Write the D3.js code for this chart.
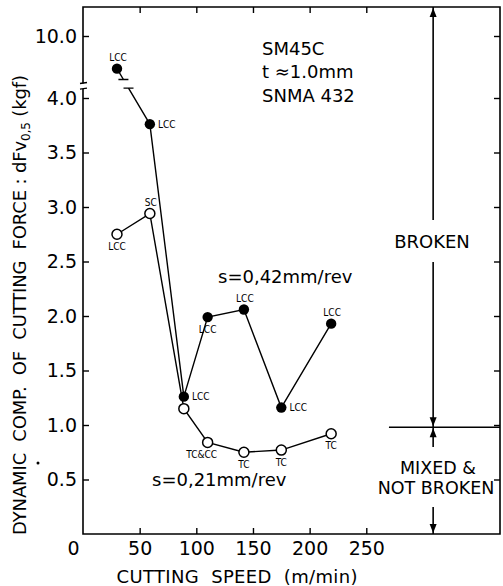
<!DOCTYPE html>
<html><head><meta charset="utf-8">
<script src="https://cdn.jsdelivr.net/npm/d3@7"></script>
<style>body{margin:0;background:#fff}svg{display:block}</style>
</head><body>
<svg id="c" width="503" height="586"></svg>
<script>
// ---- data ----
const speeds = [30, 59, 89, 110, 142, 175, 219];
const force042 = [6.6, 3.76, 1.26, 1.99, 2.06, 1.16, 1.93];
const force021 = [2.75, 2.94, 1.15, 0.84, 0.75, 0.77, 0.92];
const labels042 = ["LCC", "LCC", "LCC", "LCC", "LCC", "LCC", "LCC"];
const labels021 = ["LCC", "SC", "", "TC&CC", "TC", "TC", "TC"];
const side042 = ["above", "right", "right", "below", "above", "right", "above"];
const side021 = ["below", "above", "", "below", "below", "below", "below"];
const xTicks = [0, 50, 100, 150, 200, 250];
const yTicks = [0.5, 1.0, 1.5, 2.0, 2.5, 3.0, 3.5, 4.0, 10.0];
const boundarySpeed = 309;     // vertical region divider
const boundaryForce = 0.98;    // broken / not broken limit
const boundaryStart = 270;

// ---- layout ----
const svg = d3.select("#c");
const FONT = "'DejaVu Sans', sans-serif";
const x = d3.scaleLinear().domain([0, 368]).range([83, 500]);
const y = d3.scaleLinear().domain([0, 4.1, 5, 10]).range([534, 87.1, 84, 36]);
const yTop = 7, yBot = y(0), xLeft = x(0), xRight = x(368);

const g = svg.append("g").attr("stroke-linecap", "butt");

// frame (with axis break on left)
const yBreakUp = y(5) - 0.5, yBreakLo = y(4.1) + 2;
g.append("path").attr("fill", "none").attr("stroke", "#000").attr("stroke-width", 1.6)
  .attr("d", `M${xLeft},${yBreakUp}V${yTop}H${xRight}V${yBot}H${xLeft}V${yBreakLo}`);
g.append("path").attr("fill", "none").attr("stroke", "#000").attr("stroke-width", 1.3)
  .attr("d", `M${xLeft-3},${yBreakUp}L${xLeft+4},${yBreakUp-1}M${xLeft-3},${yBreakLo}L${xLeft+4},${yBreakLo-1}`);

// axes
const axL = d3.axisLeft(y).tickValues(yTicks).tickSizeInner(-6).tickSizeOuter(0).tickPadding(6)
  .tickFormat(d3.format(".1f"));
const gl = g.append("g").attr("transform", `translate(${xLeft},0)`).call(axL);
const axR = d3.axisRight(y).tickValues(yTicks).tickSizeInner(-6).tickSizeOuter(0).tickFormat("");
const gr = g.append("g").attr("transform", `translate(${xRight},0)`).call(axR);
const axB = d3.axisBottom(x).tickValues(xTicks).tickSizeInner(-6).tickSizeOuter(0).tickPadding(8)
  .tickFormat(d3.format("d"));
const gb = g.append("g").attr("transform", `translate(0,${yBot})`).call(axB);
const axT = d3.axisTop(x).tickValues(xTicks.filter(d => d > 0)).tickSizeInner(-6).tickSizeOuter(0).tickFormat("");
const gt = g.append("g").attr("transform", `translate(0,${yTop})`).call(axT);
[gl, gr, gb, gt].forEach(a => {
  a.select(".domain").remove();
  a.selectAll("line").attr("stroke-width", 1.4);
  a.selectAll("text").attr("font-family", FONT).attr("font-size", 19).attr("fill", "#000");
});
gb.selectAll(".tick").filter(d => d === 0).select("line").remove();
gb.selectAll(".tick").filter(d => d === 0).select("text").attr("dx", -10);

// region divider
const bx = x(boundarySpeed), by = y(boundaryForce);
const div = g.append("g").attr("stroke", "#000").attr("stroke-width", 1.6);
div.append("line").attr("x1", bx).attr("x2", bx).attr("y1", yTop).attr("y2", 220);
div.append("line").attr("x1", bx).attr("x2", bx).attr("y1", 262).attr("y2", 447);
div.append("line").attr("x1", bx).attr("x2", bx).attr("y1", 507).attr("y2", yBot);
div.append("line").attr("x1", x(boundaryStart)).attr("x2", xRight).attr("y1", by).attr("y2", by).attr("stroke-width", 1.4);
function arrow(xx, yy, dir) {
  g.append("path").attr("fill", "#000")
    .attr("d", `M${xx},${yy}L${xx-3.5},${yy-dir*9}L${xx+3.5},${yy-dir*9}Z`);
}
arrow(bx, yTop + 1, -1);
arrow(bx, by - 1, 1);
arrow(bx, by + 1, -1);
arrow(bx, yBot - 1, 1);

// series lines
const line = d3.line().x(d => x(d[0])).y(d => y(d[1]));
const pts042 = speeds.map((s, i) => [s, force042[i]]);
const pts021 = speeds.map((s, i) => [s, force021[i]]);
const lg = g.append("g").attr("fill", "none").attr("stroke", "#000").attr("stroke-width", 1.4);
lg.append("path").attr("d", line(pts042.slice(1)));
lg.append("path").attr("d", line(pts021));
{
  const p1 = [x(pts042[0][0]), y(pts042[0][1])], p2 = [x(pts042[1][0]), y(pts042[1][1])];
  const yA = yBreakUp - 4, yB = yBreakLo - 1;
  const tA = (yA - p1[1]) / (p2[1] - p1[1]), tB = (yB - p1[1]) / (p2[1] - p1[1]);
  const a = [p1[0] + tA * (p2[0] - p1[0]), yA], b = [p1[0] + tB * (p2[0] - p1[0]), yB];
  lg.append("path").attr("d", `M${p1[0]},${p1[1]}L${a[0]},${a[1]}M${b[0]},${b[1]}L${p2[0]},${p2[1]}`);
  lg.append("path").attr("d", `M${a[0]-5},${a[1]}H${a[0]+5}M${b[0]-5},${b[1]}H${b[0]+5}`);
}

// markers
g.append("g").selectAll("circle").data(pts021).join("circle")
  .attr("cx", d => x(d[0])).attr("cy", d => y(d[1])).attr("r", 5)
  .attr("fill", "#fff").attr("stroke", "#000").attr("stroke-width", 1.5);
g.append("g").selectAll("circle").data(pts042).join("circle")
  .attr("cx", d => x(d[0])).attr("cy", d => y(d[1])).attr("r", 5.2).attr("fill", "#000");

// point labels
const off = { above: [1, -11], below: [0, 12], right: [17, 0] };
function ptLabels(pts, labs, sides) {
  g.append("g").selectAll("text").data(pts.map((p, i) => ({ p, t: labs[i], s: sides[i] })).filter(d => d.t))
    .join("text")
    .attr("x", d => x(d.p[0]) + off[d.s][0] + (d.t === "TC&CC" ? -6 : 0))
    .attr("y", d => y(d.p[1]) + off[d.s][1])
    .attr("text-anchor", "middle").attr("dominant-baseline", "central")
    .attr("font-family", "'DejaVu Sans Condensed', 'DejaVu Sans', sans-serif")
    .attr("font-size", 10).attr("fill", "#000").text(d => d.t);
}
ptLabels(pts042, labels042, side042);
ptLabels(pts021, labels021, side021);

// annotations
function txt(t, xx, yy, opts = {}) {
  return g.append("text").attr("x", xx).attr("y", yy).attr("font-family", FONT)
    .attr("font-size", opts.size || 18).attr("fill", "#000")
    .attr("text-anchor", opts.anchor || "start").style("white-space", "pre").text(t);
}
txt("SM45C", 262, 55);
txt("t \u22481.0mm", 262, 78);
txt("SNMA 432", 262, 102);
txt("s=0,42mm/rev", 218, 283);
txt("s=0,21mm/rev", 152, 486);
txt("BROKEN", 432, 248, { anchor: "middle" });
txt("MIXED &", 438, 474, { anchor: "middle", size: 17.5 });
txt("NOT BROKEN", 436, 494, { anchor: "middle", size: 17.5 });

// axis titles
txt("CUTTING  SPEED  (m/min)", 237, 583, { anchor: "middle" }).attr("textLength", 241).attr("lengthAdjust", "spacing");
const yt = g.append("text").attr("transform", "translate(26,305) rotate(-90)")
  .attr("text-anchor", "middle").attr("font-family", FONT).attr("font-size", 18).attr("fill", "#000")
  .style("white-space", "pre")
  .attr("textLength", 460).attr("lengthAdjust", "spacing");
yt.append("tspan").text("DYNAMIC  COMP.  OF  CUTTING  FORCE : dFv");
yt.append("tspan").attr("font-size", 12).attr("baseline-shift", "-4").text("0,5");
yt.append("tspan").text(" (kgf)");
g.append("circle").attr("cx", 38).attr("cy", 463).attr("r", 1.5).attr("fill", "#000");
</script>
</body></html>
